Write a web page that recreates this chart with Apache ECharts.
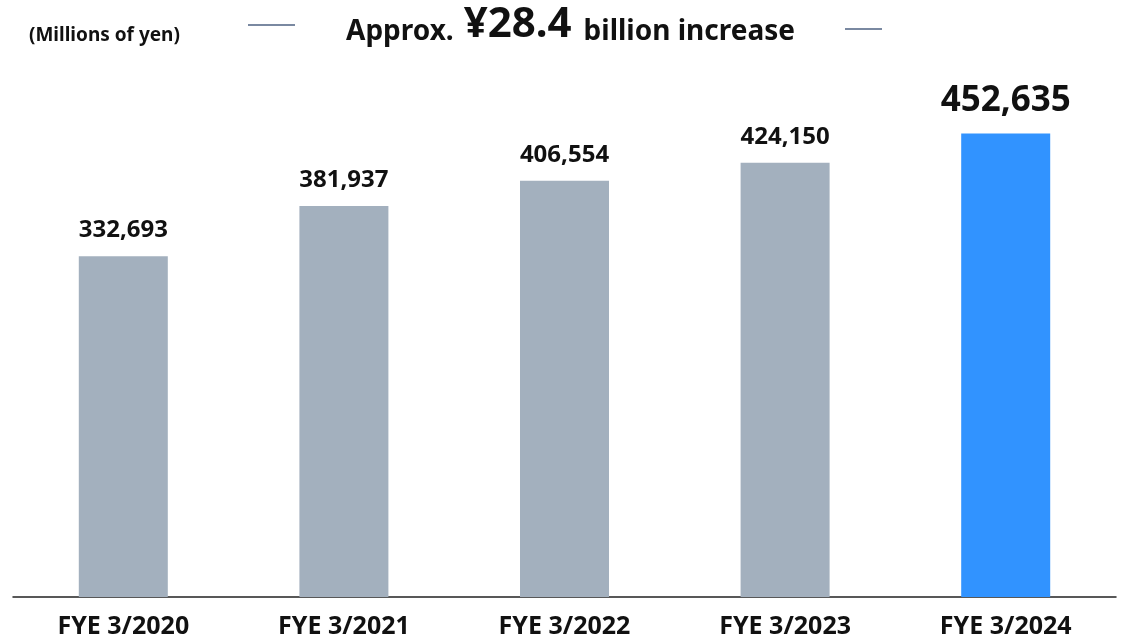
<!DOCTYPE html>
<html><head><meta charset="utf-8">
<script src="https://cdn.jsdelivr.net/npm/echarts@6/dist/echarts.min.js"></script>
<style>html,body{margin:0;padding:0;background:#fff}#c{width:1127px;height:640px}</style>
</head><body><div id="c"></div>
<script>
const categories = ['FYE 3/2020','FYE 3/2021','FYE 3/2022','FYE 3/2023','FYE 3/2024'];
const values = [332693, 381937, 406554, 424150, 452635];
const unitLabel = '(Millions of yen)';
const F = '"Noto Sans", "Open Sans", sans-serif';
const chart = echarts.init(document.getElementById('c'));
const data = values.map((v, i) => {
  const last = i === values.length - 1;
  return {
    value: v,
    itemStyle: { color: last ? '#3193FF' : '#A3B0BE' },
    label: last ? { fontSize: 35, distance: 15 } : { fontSize: 24, distance: 14 }
  };
});
chart.setOption({
  animation: false,
  title: [
    { text: unitLabel, left: 24, top: 21, textStyle: { fontFamily: F, fontSize: 19, fontWeight: 700, color: '#111' } },
    { text: '{a|Approx.}{b|¥28.4}{a|billion increase}', left: 341, top: -1,
      textStyle: { rich: {
        a: { fontFamily: F, fontSize: 28, fontWeight: 700, color: '#111', verticalAlign: 'bottom' },
        b: { fontFamily: F, fontSize: 42, fontWeight: 700, color: '#111', verticalAlign: 'bottom', padding: [0, 12, 0, 10] }
      } } }
  ],
  graphic: [
    { type: 'line', shape: { x1: 248, y1: 25, x2: 295, y2: 25 }, style: { stroke: '#4E6282', lineWidth: 1.5 } },
    { type: 'line', shape: { x1: 845, y1: 29, x2: 882, y2: 29 }, style: { stroke: '#4E6282', lineWidth: 1.5 } }
  ],
  grid: { left: 13, right: 11, top: 85, bottom: 43, containLabel: false },
  xAxis: {
    type: 'category', data: categories,
    axisLine: { lineStyle: { color: '#222', width: 1.5 } },
    axisTick: { show: false },
    axisLabel: { fontFamily: F, fontSize: 25, fontWeight: 700, color: '#111', margin: 17 }
  },
  yAxis: { type: 'value', min: 0, max: 500000, show: false, splitLine: { show: false } },
  series: [{
    type: 'bar', data: data, barWidth: 89,
    label: { show: true, position: 'top', fontFamily: F, fontWeight: 700, color: '#111',
      formatter: p => p.value.toLocaleString('en-US') }
  }]
});
</script></body></html>
